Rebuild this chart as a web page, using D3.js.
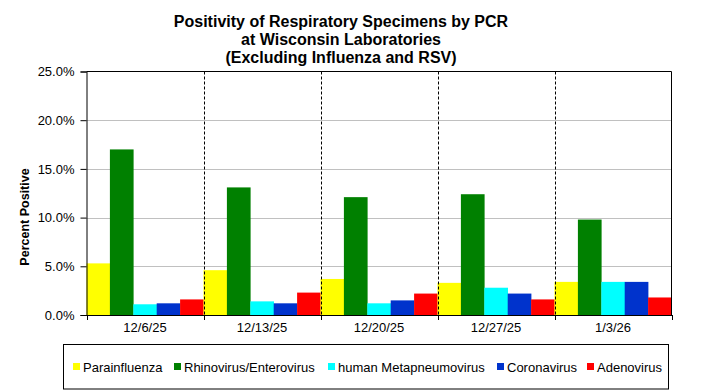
<!DOCTYPE html>
<html><head><meta charset="utf-8">
<script src="https://cdn.jsdelivr.net/npm/d3@7"></script>
<style>body{margin:0;background:#fff;}svg{display:block;font-family:Arial,"Liberation Sans",sans-serif;}</style>
</head><body>
<svg id="chart" width="704" height="391"></svg>
<script>
const categories = ["12/6/25","12/13/25","12/20/25","12/27/25","1/3/26"];
const seriesNames = ["Parainfluenza","Rhinovirus/Enterovirus","human Metapneumovirus","Coronavirus","Adenovirus"];
const parainfluenza = [5.3, 4.6, 3.7, 3.3, 3.4];
const rhinovirus = [17.0, 13.1, 12.1, 12.4, 9.8];
const hmpv = [1.1, 1.4, 1.2, 2.8, 3.4];
const coronavirus = [1.2, 1.2, 1.5, 2.2, 3.4];
const adenovirus = [1.6, 2.3, 2.2, 1.6, 1.8];
const colors = ["#FFFF00","#008000","#00FFFF","#0033CC","#FF0000"];
const yTicks = [0, 5, 10, 15, 20, 25];

const seriesValues = [parainfluenza, rhinovirus, hmpv, coronavirus, adenovirus];
const svg = d3.select("#chart");
const m = {left: 86.5, right: 671.5, top: 71.5, bottom: 315};
const FONT = "Arial, 'Liberation Sans', sans-serif";

const x = d3.scaleBand().domain(categories).range([m.left, m.right]).padding(0);
const xi = d3.scaleBand().domain(d3.range(seriesNames.length)).range([0, x.bandwidth()]).padding(0);
const y = d3.scaleLinear().domain([0, 25]).range([m.bottom, m.top]);

// horizontal gridlines
svg.append("g").selectAll("line").data(yTicks.filter(d => d > 0 && d < 25)).join("line")
  .attr("x1", m.left).attr("x2", m.right)
  .attr("y1", d => Math.round(y(d)) + 0.5).attr("y2", d => Math.round(y(d)) + 0.5)
  .attr("stroke", "#c0c0c0").attr("stroke-width", 1);

// bars
const groups = svg.append("g").selectAll("g").data(categories).join("g")
  .attr("transform", d => `translate(${x(d)},0)`);
groups.selectAll("rect").data((c, ci) => seriesValues.map((s, si) => ({si, v: s[ci]}))).join("rect")
  .attr("x", d => xi(d.si)).attr("width", xi.bandwidth() + 0.3)
  .attr("y", d => y(d.v)).attr("height", d => y(0) - y(d.v))
  .attr("fill", d => colors[d.si]);

// vertical dashed dividers
svg.append("g").selectAll("line").data(categories.slice(1)).join("line")
  .attr("x1", d => Math.round(x(d)) + 0.5).attr("x2", d => Math.round(x(d)) + 0.5)
  .attr("y1", m.top).attr("y2", m.bottom)
  .attr("stroke", "#000").attr("stroke-width", 1).attr("stroke-dasharray", "3,2");

// plot border top & right
svg.append("path")
  .attr("d", `M${m.left},${m.top}H${m.right}V${m.bottom}`)
  .attr("fill", "none").attr("stroke", "#000").attr("stroke-width", 1);

// y axis
const yAxis = d3.axisLeft(y).tickValues(yTicks).tickFormat(d => d.toFixed(1) + "%").tickSize(6).tickPadding(6);
const gy = svg.append("g").attr("transform", `translate(${m.left},0)`).call(yAxis);
gy.selectAll("text").attr("font-size", 13).attr("fill", "#000").attr("font-family", FONT);
gy.selectAll("line,path").attr("stroke", "#000");

// x axis
const xAxis = d3.axisBottom(x).tickSize(0).tickPadding(8);
const gx = svg.append("g").attr("transform", `translate(0,${m.bottom})`).call(xAxis);
gx.selectAll("text").attr("font-size", 13).attr("fill", "#000").attr("font-family", FONT);
gx.select("path").attr("stroke", "#000");
gx.selectAll(".tick line").remove();
// boundary ticks
svg.append("g").selectAll("line").data(d3.range(categories.length + 1)).join("line")
  .attr("x1", i => Math.round(m.left + i * x.bandwidth()) + 0.5)
  .attr("x2", i => Math.round(m.left + i * x.bandwidth()) + 0.5)
  .attr("y1", m.bottom).attr("y2", m.bottom + 5)
  .attr("stroke", "#000");

// y title
svg.append("text").attr("transform", "translate(29,217) rotate(-90)")
  .attr("text-anchor", "middle").attr("font-size", 12.5).attr("font-weight", "bold")
  .text("Percent Positive");

// title
const titleLines = ["Positivity of Respiratory Specimens by PCR", "at Wisconsin Laboratories", "(Excluding Influenza and RSV)"];
svg.append("g").selectAll("text").data(titleLines).join("text")
  .attr("x", 341).attr("y", (d, i) => 27 + i * 18)
  .attr("text-anchor", "middle").attr("font-size", 16).attr("font-weight", "bold")
  .text(d => d);

// legend
svg.append("rect").attr("x", 63.5).attr("y", 344.5).attr("width", 605).attr("height", 44.5)
  .attr("fill", "none").attr("stroke", "#000");
const legendX = [73, 174, 328, 497, 587];
const lg = svg.append("g").selectAll("g").data(seriesNames).join("g")
  .attr("transform", (d, i) => `translate(${legendX[i]},0)`);
lg.append("rect").attr("x", 0).attr("y", 363).attr("width", 7).attr("height", 7).attr("fill", (d, i) => colors[i]);
lg.append("text").attr("x", 10).attr("y", 371.5).attr("font-size", 13).attr("fill", "#000").text(d => d);
</script>
</body></html>
